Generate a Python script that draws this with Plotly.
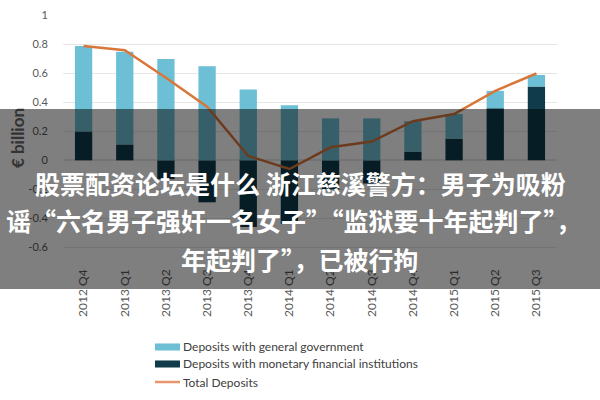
import plotly.graph_objects as go

# Datos (miles de millones de euros)
trimestres = ["2012 Q4", "2013 Q1", "2013 Q2", "2013 Q3", "2013 Q4", "2014 Q1",
              "2014 Q2", "2014 Q3", "2014 Q4", "2015 Q1", "2015 Q2", "2015 Q3"]
depositos_gobierno = [0.59, 0.64, 0.70, 0.65, 0.49, 0.38, 0.29, 0.29, 0.21, 0.17, 0.12, 0.08]
depositos_ifm = [0.20, 0.11, -0.13, -0.29, -0.46, -0.44, -0.20, -0.16, 0.06, 0.15, 0.36, 0.51]
depositos_total = [0.79, 0.76, 0.57, 0.37, 0.03, -0.06, 0.09, 0.13, 0.27, 0.32, 0.48, 0.60]
ticks_y = [-0.6, -0.4, -0.2, 0, 0.2, 0.4, 0.6, 0.8, 1]
etiquetas_y = ["-0.6", "-0.4", "-0.2", "0", "0.2", "0.4", "0.6", "0.8", "1"]

nombre_gob = "Deposits with general government"
nombre_ifm = "Deposits with monetary financial institutions"
nombre_total = "Total Deposits"

color_gob = "#6cbfd5"
color_ifm = "#0f3b4a"
color_total = "#d9773a"

lineas_titulo = [
    "股票配资论坛是什么 浙江慈溪警方：男子为吸粉",
    "谣“六名男子强奸一名女子”“监狱要十年起判了”，",
    "年起判了”，已被行拘",
]

fig = go.Figure()

# Barras apiladas: IFM abajo, gobierno encima
fig.add_trace(go.Bar(
    x=trimestres, y=depositos_ifm, name=nombre_ifm,
    marker=dict(color=color_ifm, line=dict(width=0)),
))
fig.add_trace(go.Bar(
    x=trimestres, y=depositos_gobierno, name=nombre_gob,
    marker=dict(color=color_gob, line=dict(width=0)),
))
fig.add_trace(go.Scatter(
    x=trimestres, y=depositos_total, mode="lines", name=nombre_total,
    line=dict(color=color_total, width=2.5),
))

fig.update_layout(
    width=600, height=400,
    margin=dict(l=63, r=43, t=15, b=134),
    barmode="relative",
    bargap=0.58,
    plot_bgcolor="white",
    paper_bgcolor="white",
    font=dict(family="Lato", size=11, color="#595959"),
    showlegend=False,
    xaxis=dict(
        tickangle=-90,
        tickfont=dict(size=12, color="#595959"),
        showgrid=False,
        showline=False,
        automargin=False,
    ),
    yaxis=dict(
        range=[-0.73, 1.004],
        tickvals=ticks_y,
        ticktext=etiquetas_y,
        gridcolor="#e6e6e6",
        zerolinecolor="#e6e6e6",
        ticks="outside", ticklen=12, tickcolor="rgba(0,0,0,0)",
        tickfont=dict(size=11, color="#595959"),
        automargin=False,
    ),
)

# Título del eje Y
fig.add_annotation(
    text="<b>€ billion</b>", textangle=-90,
    xref="paper", yref="paper", x=-0.091, y=0.51,
    xanchor="center", yanchor="middle",
    showarrow=False, font=dict(family="Lato", size=17, color="#333333"),
)

# Leyenda dibujada a mano (la de plotly no cabía y empujaba el margen)
filas_leyenda = [-0.3227, -0.3904, -0.4622]
for nombre, color, fila, tipo in zip(
    [nombre_gob, nombre_ifm, nombre_total],
    [color_gob, color_ifm, "#e8956a"],
    filas_leyenda,
    ["rect", "rect", "line"],
):
    if tipo == "rect":
        fig.add_shape(type="rect", xref="paper", yref="paper",
                      x0=0.1862, x1=0.2368, y0=fila - 0.014, y1=fila + 0.014,
                      fillcolor=color, line=dict(width=0))
    else:
        fig.add_shape(type="line", xref="paper", yref="paper",
                      x0=0.1862, x1=0.2368, y0=fila, y1=fila,
                      line=dict(color=color, width=2.5))
    fig.add_annotation(
        text=nombre, xref="paper", yref="paper", x=0.238, y=fila,
        xanchor="left", yanchor="middle", showarrow=False,
        font=dict(family="Lato", size=12, color="#404040"),
    )

# Banda gris semitransparente del pie de foto
fig.add_shape(
    type="rect", xref="paper", yref="paper",
    x0=-0.13, x1=1.09, y0=-0.092, y1=0.6255,
    fillcolor="rgba(0,0,0,0.5)", line=dict(width=0), layer="above",
)

posiciones = [(0.4798, 0.3307), (0.4656, 0.1833), (0.4798, 0.0279)]
for texto, (px_, py_) in zip(lineas_titulo, posiciones):
    fig.add_annotation(
        text="<b>" + texto + "</b>",
        xref="paper", yref="paper", x=px_, y=py_,
        xanchor="center", yanchor="middle",
        showarrow=False,
        font=dict(family="Noto Sans CJK SC", size=25, color="white"),
    )

# Quitamos el margen por defecto del body para que la figura ocupe toda la ventana
fig.write_html(
    "out.html",
    config={"displayModeBar": False},
    post_script="document.body.style.margin='0px';",
)
